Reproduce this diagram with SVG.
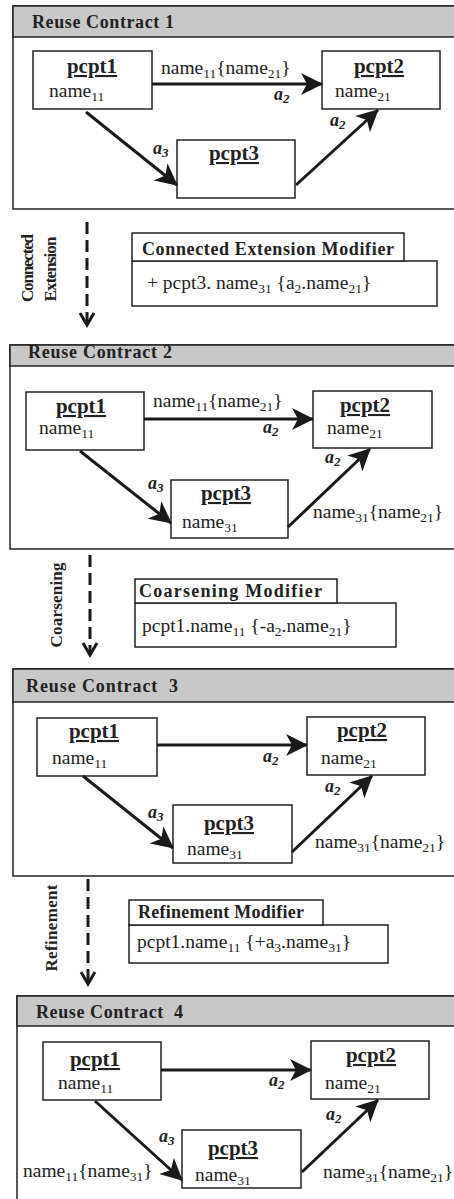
<svg xmlns="http://www.w3.org/2000/svg" width="454" height="1199" viewBox="0 0 454 1199">
  <style>
    .panel { fill: #fff; stroke: #222; stroke-width: 1.5; }
    .hdr { fill: #c8c8c8; stroke: #222; stroke-width: 1.5; }
    .box { fill: #fff; stroke: #222; stroke-width: 1.5; }
    .edge { fill: none; stroke: #1a1a1a; stroke-width: 3; marker-end: url(#head); }
    .flow { fill: none; stroke: #1a1a1a; stroke-width: 3; stroke-dasharray: 12 6; }
    .chev { fill: none; stroke: #1a1a1a; stroke-width: 3; }
    text { font-family: "Liberation Serif", "Times New Roman", serif; fill: #222; }
    .ttl { font-size: 18px; font-weight: bold; }
    .obj { font-size: 21px; font-weight: bold; text-decoration: underline; text-anchor: middle; }
    .nm { font-size: 19.5px; }
    .sub { font-size: 13.5px; }
    .role { font-size: 18px; font-weight: bold; font-style: italic; }
    .rsub { font-size: 13px; }
    .side { font-size: 17px; font-weight: bold; text-anchor: middle; }
  </style>
  <defs>
    <marker id="head" markerUnits="userSpaceOnUse" markerWidth="22" markerHeight="22" viewBox="0 0 22 22" refX="21" refY="11" orient="auto">
      <path d="M0,0 L22,11 L0,22 L6,11 z" fill="#1a1a1a"/>
    </marker>
  </defs>

  <!-- Reuse Contract 1 -->
  <g id="contract1">
    <rect class="panel" x="13" y="6" width="450" height="203"/>
    <rect class="hdr" x="13" y="6" width="450" height="31"/>
    <text class="ttl" x="32" y="28" textLength="142">Reuse Contract 1</text>
  </g>
  <g id="c1-pcpt1">
    <rect class="box" x="33" y="51" width="119" height="58"/>
    <text class="obj" x="92" y="73">pcpt1</text>
    <text class="nm" x="49" y="97">name<tspan class="sub" dy="4">11</tspan></text>
  </g>
  <g id="c1-pcpt2">
    <rect class="box" x="322" y="51" width="118" height="58"/>
    <text class="obj" x="379" y="73">pcpt2</text>
    <text class="nm" x="335" y="97">name<tspan class="sub" dy="4">21</tspan></text>
  </g>
  <g id="c1-pcpt3">
    <rect class="box" x="177" y="140" width="118" height="58"/>
    <text class="obj" x="234" y="160">pcpt3</text>
  </g>

  <!-- Reuse Contract 2 -->
  <g id="contract2">
    <rect class="panel" x="10" y="345" width="452" height="204"/>
    <rect class="hdr" x="10" y="345" width="452" height="21"/>
    <text class="ttl" x="28" y="358" textLength="144">Reuse Contract 2</text>
  </g>
  <g id="c2-pcpt1">
    <rect class="box" x="26" y="392" width="118" height="58"/>
    <text class="obj" x="81" y="413">pcpt1</text>
    <text class="nm" x="39" y="434">name<tspan class="sub" dy="4">11</tspan></text>
  </g>
  <g id="c2-pcpt2">
    <rect class="box" x="313" y="391" width="119" height="57"/>
    <text class="obj" x="365" y="412">pcpt2</text>
    <text class="nm" x="327" y="434">name<tspan class="sub" dy="4">21</tspan></text>
  </g>
  <g id="c2-pcpt3">
    <rect class="box" x="171" y="480" width="117" height="58"/>
    <text class="obj" x="226" y="500">pcpt3</text>
    <text class="nm" x="182" y="528">name<tspan class="sub" dy="4">31</tspan></text>
  </g>

  <!-- Reuse Contract 3 -->
  <g id="contract3">
    <rect class="panel" x="13" y="669" width="450" height="207"/>
    <rect class="hdr" x="13" y="669" width="450" height="33"/>
    <text class="ttl" x="26" y="692" xml:space="preserve" textLength="152">Reuse Contract  3</text>
  </g>
  <g id="c3-pcpt1">
    <rect class="box" x="37" y="718" width="120" height="58"/>
    <text class="obj" x="94" y="738">pcpt1</text>
    <text class="nm" x="52" y="764">name<tspan class="sub" dy="4">11</tspan></text>
  </g>
  <g id="c3-pcpt2">
    <rect class="box" x="307" y="717" width="118" height="58"/>
    <text class="obj" x="362" y="737">pcpt2</text>
    <text class="nm" x="321" y="764">name<tspan class="sub" dy="4">21</tspan></text>
  </g>
  <g id="c3-pcpt3">
    <rect class="box" x="173" y="805" width="119" height="58"/>
    <text class="obj" x="229" y="830">pcpt3</text>
    <text class="nm" x="187" y="855">name<tspan class="sub" dy="4">31</tspan></text>
  </g>

  <!-- Reuse Contract 4 -->
  <g id="contract4">
    <rect class="panel" x="17" y="996" width="445" height="210"/>
    <rect class="hdr" x="17" y="996" width="445" height="30"/>
    <text class="ttl" x="36" y="1018" xml:space="preserve" textLength="147">Reuse Contract  4</text>
  </g>
  <g id="c4-pcpt1">
    <rect class="box" x="43" y="1042" width="118" height="58"/>
    <text class="obj" x="95" y="1066">pcpt1</text>
    <text class="nm" x="58" y="1089">name<tspan class="sub" dy="4">11</tspan></text>
  </g>
  <g id="c4-pcpt2">
    <rect class="box" x="311" y="1041" width="118" height="58"/>
    <text class="obj" x="371" y="1062">pcpt2</text>
    <text class="nm" x="325" y="1089">name<tspan class="sub" dy="4">21</tspan></text>
  </g>
  <g id="c4-pcpt3">
    <rect class="box" x="182" y="1130" width="119" height="58"/>
    <text class="obj" x="233" y="1155">pcpt3</text>
    <text class="nm" x="195" y="1181">name<tspan class="sub" dy="4">31</tspan></text>
  </g>

  <!-- Modifiers -->
  <g id="mod-connected-extension">
    <rect class="box" x="132" y="261" width="305" height="45"/>
    <rect class="box" x="132" y="233" width="272" height="28"/>
    <text class="ttl" x="142" y="255" textLength="252">Connected Extension Modifier</text>
    <text class="nm" x="147" y="289">+ pcpt3. name<tspan class="sub" dy="4">31</tspan><tspan dy="-4"> {a</tspan><tspan class="sub" dy="4">2</tspan><tspan dy="-4">.name</tspan><tspan class="sub" dy="4">21</tspan><tspan dy="-4">}</tspan></text>
  </g>
  <g id="mod-coarsening">
    <rect class="box" x="135" y="603" width="261" height="44"/>
    <rect class="box" x="135" y="579" width="202" height="24"/>
    <text class="ttl" x="139" y="597" textLength="183">Coarsening Modifier</text>
    <text class="nm" x="142" y="632">pcpt1.name<tspan class="sub" dy="4">11</tspan><tspan dy="-4"> {-a</tspan><tspan class="sub" dy="4">2</tspan><tspan dy="-4">.name</tspan><tspan class="sub" dy="4">21</tspan><tspan dy="-4">}</tspan></text>
  </g>
  <g id="mod-refinement">
    <rect class="box" x="129" y="925" width="259" height="38"/>
    <rect class="box" x="129" y="900" width="194" height="25"/>
    <text class="ttl" x="138" y="918" textLength="166">Refinement Modifier</text>
    <text class="nm" x="137" y="948">pcpt1.name<tspan class="sub" dy="4">11</tspan><tspan dy="-4"> {+a</tspan><tspan class="sub" dy="4">3</tspan><tspan dy="-4">.name</tspan><tspan class="sub" dy="4">31</tspan><tspan dy="-4">}</tspan></text>
  </g>

  <!-- Evolution steps between contracts -->
  <g id="step-connected-extension">
    <line class="flow" x1="87" y1="222" x2="87" y2="322"/>
    <path class="chev" d="M80,313 L87,325 L94,313"/>
    <text class="side" transform="translate(33,268) rotate(-90)" textLength="68">Connected</text>
    <text class="side" transform="translate(56,269) rotate(-90)" textLength="65">Extension</text>
  </g>
  <g id="step-coarsening">
    <line class="flow" x1="90" y1="555" x2="90" y2="652"/>
    <path class="chev" d="M83,643 L90,655 L97,643"/>
    <text class="side" transform="translate(62,605) rotate(-90)" textLength="85">Coarsening</text>
  </g>
  <g id="step-refinement">
    <line class="flow" x1="88" y1="879" x2="88" y2="981"/>
    <path class="chev" d="M81,972 L88,984 L95,972"/>
    <text class="side" transform="translate(57,928) rotate(-90)" textLength="87">Refinement</text>
  </g>

  <!-- Connectors -->
  <g id="connectors">
    <path class="edge" d="M152,84 L322,84"/>
    <path class="edge" d="M86,112 L177,185"/>
    <path class="edge" d="M296,185 L378,110"/>

    <path class="edge" d="M144,419 L313,419"/>
    <path class="edge" d="M80,451 L171,523"/>
    <path class="edge" d="M288,527 L370,449"/>

    <path class="edge" d="M157,745 L307,745"/>
    <path class="edge" d="M83,776 L173,848"/>
    <path class="edge" d="M292,852 L372,776"/>

    <path class="edge" d="M161,1070 L311,1070"/>
    <path class="edge" d="M95,1101 L182,1180"/>
    <path class="edge" d="M302,1172 L378,1100"/>
  </g>

  <!-- Connector labels -->
  <g id="connector-labels">
    <text class="nm" x="161" y="74">name<tspan class="sub" dy="4">11</tspan><tspan dy="-4">{name</tspan><tspan class="sub" dy="4">21</tspan><tspan dy="-4">}</tspan></text>
    <text class="role" x="274" y="100">a<tspan class="rsub" dy="3">2</tspan></text>
    <text class="role" x="153" y="154">a<tspan class="rsub" dy="3">3</tspan></text>
    <text class="role" x="330" y="126">a<tspan class="rsub" dy="3">2</tspan></text>

    <text class="nm" x="153" y="407">name<tspan class="sub" dy="4">11</tspan><tspan dy="-4">{name</tspan><tspan class="sub" dy="4">21</tspan><tspan dy="-4">}</tspan></text>
    <text class="role" x="263" y="433">a<tspan class="rsub" dy="3">2</tspan></text>
    <text class="role" x="148" y="489">a<tspan class="rsub" dy="3">3</tspan></text>
    <text class="role" x="325" y="463">a<tspan class="rsub" dy="3">2</tspan></text>
    <text class="nm" x="313" y="518">name<tspan class="sub" dy="4">31</tspan><tspan dy="-4">{name</tspan><tspan class="sub" dy="4">21</tspan><tspan dy="-4">}</tspan></text>

    <text class="role" x="263" y="762">a<tspan class="rsub" dy="3">2</tspan></text>
    <text class="role" x="148" y="818">a<tspan class="rsub" dy="3">3</tspan></text>
    <text class="role" x="325" y="792">a<tspan class="rsub" dy="3">2</tspan></text>
    <text class="nm" x="315" y="848">name<tspan class="sub" dy="4">31</tspan><tspan dy="-4">{name</tspan><tspan class="sub" dy="4">21</tspan><tspan dy="-4">}</tspan></text>

    <text class="role" x="269" y="1086">a<tspan class="rsub" dy="3">2</tspan></text>
    <text class="role" x="159" y="1142">a<tspan class="rsub" dy="3">3</tspan></text>
    <text class="nm" x="23" y="1177">name<tspan class="sub" dy="4">11</tspan><tspan dy="-4">{name</tspan><tspan class="sub" dy="4">31</tspan><tspan dy="-4">}</tspan></text>
    <text class="role" x="326" y="1120">a<tspan class="rsub" dy="3">2</tspan></text>
    <text class="nm" x="323" y="1178">name<tspan class="sub" dy="4">31</tspan><tspan dy="-4">{name</tspan><tspan class="sub" dy="4">21</tspan><tspan dy="-4">}</tspan></text>
  </g>
</svg>
